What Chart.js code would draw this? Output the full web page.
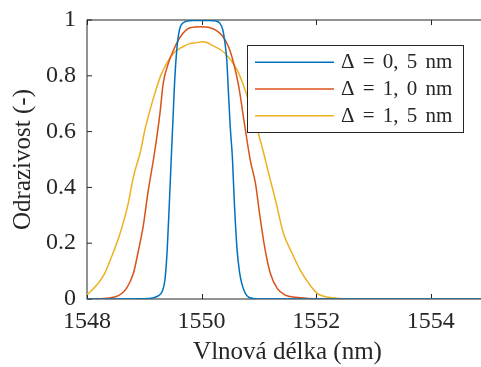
<!DOCTYPE html>
<html>
<head>
<meta charset="utf-8">
<script src="https://cdn.jsdelivr.net/npm/chart.js@4/dist/chart.umd.min.js"></script>
<style>
  html, body { margin: 0; padding: 0; background: #ffffff; overflow: hidden; }
  #wrap { width: 489px; height: 367px; }
</style>
</head>
<body>
<div id="wrap"><canvas id="c" width="489" height="367"></canvas></div>
<script>
// Reflection spectra of a Bragg grating for three bandwidths
const seriesLabels = ['Δ = 0, 5 nm', 'Δ = 1, 0 nm', 'Δ = 1, 5 nm'];
const seriesColors = ['#0072BD', '#D95319', '#EDB120'];

const wavelength05 = [1548, 1549.00, 1549.15, 1549.25, 1549.31, 1549.36, 1549.40, 1549.44, 1549.47, 1549.50,
  1549.53, 1549.57, 1549.60, 1549.63, 1549.68, 1549.75, 1549.85, 1550.00, 1550.15, 1550.25, 1550.32, 1550.37,
  1550.40, 1550.44, 1550.47, 1550.50, 1550.54, 1550.57, 1550.62, 1550.66, 1550.70, 1550.79, 1550.90, 1551.10, 1555];
const reflect05 = [0, 0.001, 0.004, 0.012, 0.026, 0.068, 0.176, 0.355, 0.50, 0.64,
  0.78, 0.90, 0.95, 0.976, 0.990, 0.996, 0.998, 0.998, 0.998, 0.996, 0.988, 0.965,
  0.93, 0.857, 0.737, 0.618, 0.50, 0.355, 0.176, 0.10, 0.057, 0.012, 0.002, 0, 0];

const wavelength10 = [1548, 1548.34, 1548.55, 1548.69, 1548.81, 1548.90, 1548.98, 1549.07, 1549.16, 1549.22,
  1549.28, 1549.33, 1549.42, 1549.51, 1549.63, 1549.80, 1550.00, 1550.12, 1550.35, 1550.47, 1550.56, 1550.65,
  1550.73, 1550.85, 1550.94, 1551.02, 1551.11, 1551.20, 1551.32, 1551.46, 1551.64, 1551.87, 1552.30, 1555];
const reflect10 = [0, 0.003, 0.012, 0.038, 0.092, 0.176, 0.259, 0.39, 0.50, 0.582,
  0.677, 0.773, 0.845, 0.892, 0.94, 0.972, 0.976, 0.974, 0.946, 0.904, 0.845, 0.761,
  0.653, 0.498, 0.415, 0.295, 0.176, 0.092, 0.038, 0.014, 0.006, 0.002, 0, 0];

const wavelength15 = [1548, 1548.17, 1548.31, 1548.43, 1548.55, 1548.63, 1548.72, 1548.81, 1548.94, 1549.01,
  1549.10, 1549.16, 1549.28, 1549.39, 1549.51, 1549.63, 1549.80, 1549.90, 1550.00, 1550.08, 1550.18, 1550.41,
  1550.62, 1550.76, 1550.88, 1550.99, 1551.07, 1551.17, 1551.29, 1551.43, 1551.58, 1551.72, 1551.87, 1552.02,
  1552.22, 1552.50, 1553.00, 1555];
const reflect15 = [0.015, 0.05, 0.092, 0.152, 0.218, 0.271, 0.343, 0.438, 0.534, 0.606,
  0.677, 0.720, 0.797, 0.845, 0.881, 0.899, 0.916, 0.918, 0.922, 0.920, 0.910, 0.881,
  0.821, 0.749, 0.67, 0.594, 0.534, 0.451, 0.355, 0.235, 0.164, 0.104, 0.056, 0.020,
  0.006, 0.001, 0, 0];

const xTicks = [1548, 1550, 1552, 1554];
const yTicks = [0, 0.2, 0.4, 0.6, 0.8, 1];

const axisColor = '#262626';
const serif = "'Liberation Serif', 'Times New Roman', serif";

function toPoints(xs, ys) { return xs.map((x, i) => ({ x: x, y: ys[i] })); }

const wavelengths = [wavelength05, wavelength10, wavelength15];
const reflects = [reflect05, reflect10, reflect15];

const datasets = seriesLabels.map((label, i) => ({
  label: label,
  data: toPoints(wavelengths[i], reflects[i]),
  borderColor: seriesColors[i],
  backgroundColor: seriesColors[i],
  borderWidth: 1.5,
  pointRadius: 0,
  fill: false,
  cubicInterpolationMode: 'monotone'
}));

// Axes box with inward tick marks, drawn under the curves
const boxPlugin = {
  id: 'box',
  beforeDatasetsDraw(chart) {
    const { ctx, chartArea: a, scales } = chart;
    ctx.save();
    ctx.strokeStyle = axisColor;
    ctx.lineWidth = 1;
    ctx.strokeRect(a.left, a.top, a.right - a.left, a.bottom - a.top);
    const len = 5;
    ctx.beginPath();
    scales.x.ticks.forEach(t => {
      const px = Math.round(scales.x.getPixelForValue(t.value)) + 0.5;
      ctx.moveTo(px, a.bottom); ctx.lineTo(px, a.bottom - len);
      ctx.moveTo(px, a.top); ctx.lineTo(px, a.top + len);
    });
    scales.y.ticks.forEach(t => {
      const py = scales.y.getPixelForValue(t.value);
      ctx.moveTo(a.left, py); ctx.lineTo(a.left + len, py);
      ctx.moveTo(a.right, py); ctx.lineTo(a.right - len, py);
    });
    ctx.stroke();
    ctx.restore();
  }
};

// Boxed legend inside the plot area
const legendPlugin = {
  id: 'boxLegend',
  afterDatasetsDraw(chart) {
    const { ctx } = chart;
    const bx = 247, by = 45, bw = 216, bh = 87;
    ctx.save();
    ctx.fillStyle = '#ffffff';
    ctx.fillRect(bx, by, bw, bh);
    ctx.strokeStyle = axisColor;
    ctx.lineWidth = 1;
    ctx.strokeRect(bx + 0.5, by + 0.5, bw, bh);
    ctx.font = "21px " + serif;
    ctx.textBaseline = 'alphabetic';
    ctx.textAlign = 'left';
    try { ctx.wordSpacing = '3px'; } catch (e) {}
    chart.data.datasets.forEach((ds, i) => {
      const y = 62.3 + i * 26.7;
      ctx.strokeStyle = ds.borderColor;
      ctx.lineWidth = 1.5;
      ctx.beginPath();
      ctx.moveTo(255, y); ctx.lineTo(334, y);
      ctx.stroke();
      ctx.fillStyle = axisColor;
      ctx.fillText(ds.label, 341, y + 6);
    });
    ctx.restore();
  }
};

new Chart(document.getElementById('c'), {
  type: 'line',
  data: { datasets: datasets },
  plugins: [boxPlugin, legendPlugin],
  options: {
    responsive: false,
    devicePixelRatio: 1,
    animation: false,
    layout: { padding: { top: 20, right: 1, left: 0, bottom: 0 } },
    plugins: { legend: { display: false }, tooltip: { enabled: false } },
    scales: {
      x: {
        type: 'linear',
        min: 1548,
        max: 1555,
        afterBuildTicks(scale) { scale.ticks = xTicks.map(v => ({ value: v })); },
        afterFit(scale) {
          scale.height = 68;
          scale.paddingLeft = 0;
          scale.paddingRight = 0;
        },
        grid: { display: false, drawTicks: false },
        border: { display: false },
        ticks: {
          padding: 8,
          color: axisColor,
          font: { family: serif, size: 24 },
          maxRotation: 0,
          callback: v => String(v)
        },
        title: {
          display: true,
          text: 'Vlnová délka (nm)',
          color: axisColor,
          font: { family: serif, size: 25 },
          padding: { top: 0, bottom: 0 }
        }
      },
      y: {
        type: 'linear',
        min: 0,
        max: 1,
        afterBuildTicks(scale) { scale.ticks = yTicks.map(v => ({ value: v })); },
        afterFit(scale) {
          scale.width = 87;
          scale.paddingTop = 0;
          scale.paddingBottom = 0;
        },
        grid: { display: false, drawTicks: false },
        border: { display: false },
        ticks: {
          padding: 11,
          color: axisColor,
          font: { family: serif, size: 24 },
          callback: v => String(v)
        },
        title: {
          display: true,
          text: 'Odrazivost (-)',
          color: axisColor,
          font: { family: serif, size: 25 },
          padding: { top: 8, bottom: 0 }
        }
      }
    }
  }
});
</script>
</body>
</html>
